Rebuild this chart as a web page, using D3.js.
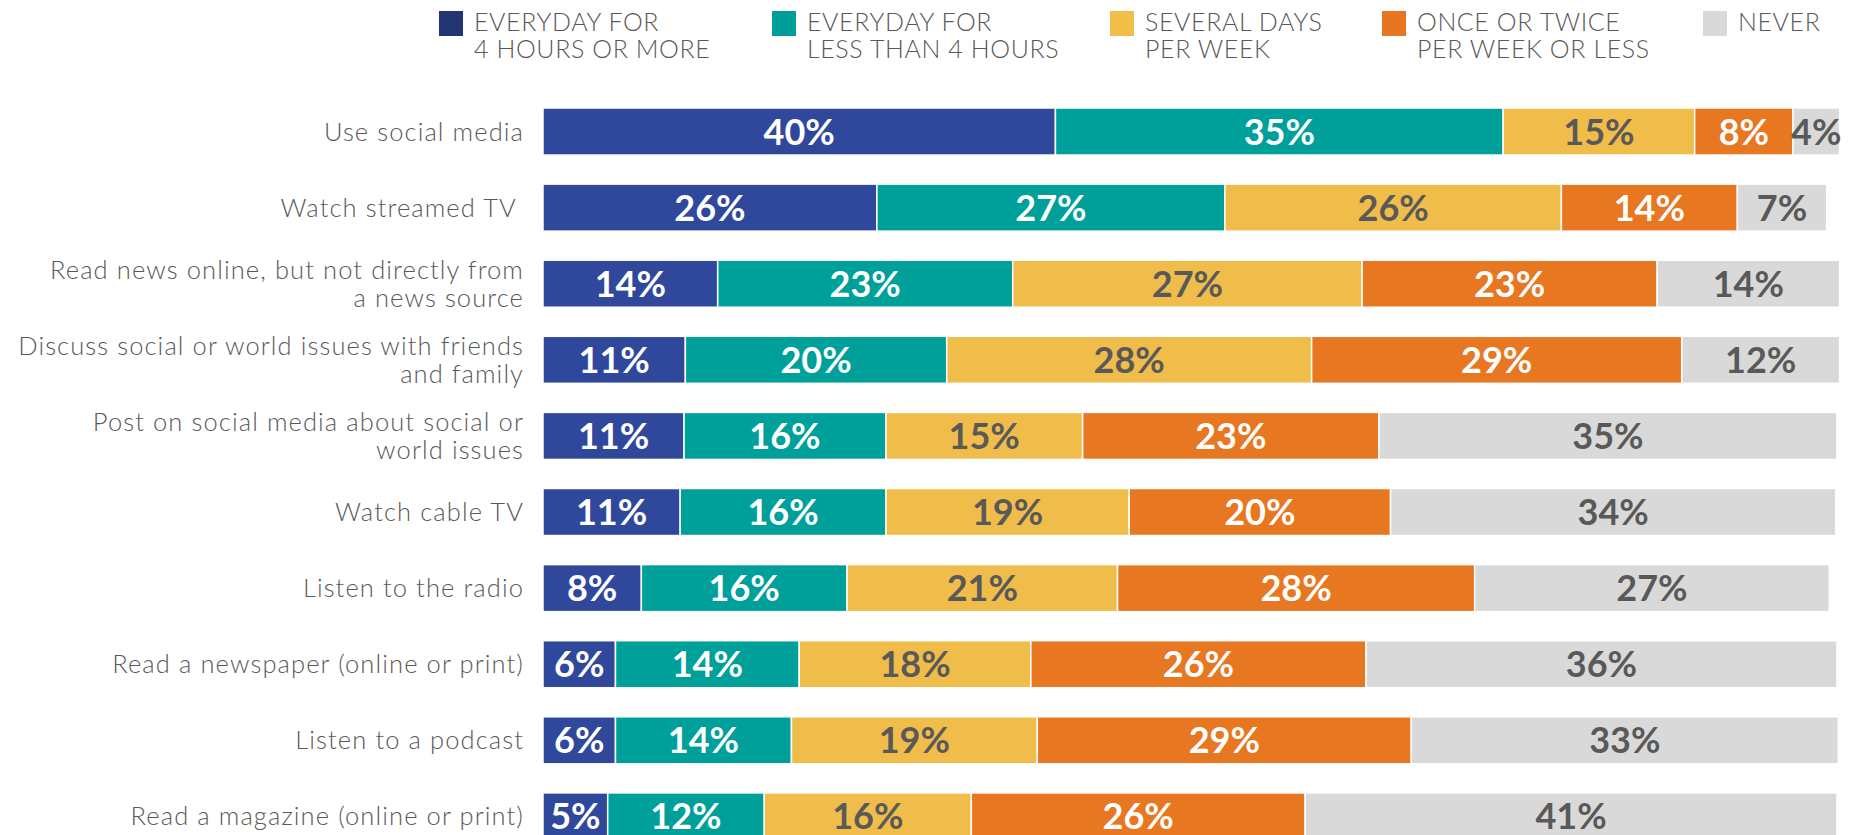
<!DOCTYPE html>
<html>
<head>
<meta charset="utf-8">
<script src="https://cdn.jsdelivr.net/npm/d3@7"></script>
<style>
  html, body { margin: 0; padding: 0; overflow: hidden; background: #fff; }
</style>
</head>
<body>
<div id="chart"></div>
<script>
// activities, top to bottom
var categories = [
    "Use social media",
    "Watch streamed TV\u00a0",
    "Read news online, but not directly from|a news source",
    "Discuss social or world issues with friends|and family",
    "Post on social media about social or|world issues",
    "Watch cable TV",
    "Listen to the radio",
    "Read a newspaper (online or print)",
    "Listen to a podcast",
    "Read a magazine (online or print)"
];

// percent of respondents
var fourPlus    = [39.6, 25.8, 13.5, 11.0, 10.9, 10.6,  7.6,  5.6,  5.6,  5.0];
var underFour   = [34.6, 26.9, 22.8, 20.2, 15.6, 15.9, 15.9, 14.2, 13.6, 12.1];
var severalDays = [14.8, 26.0, 27.0, 28.2, 15.2, 18.8, 20.9, 17.9, 19.0, 16.0];
var onceTwice   = [ 7.6, 13.6, 22.8, 28.6, 22.9, 20.2, 27.6, 25.9, 28.9, 25.8];
var never       = [ 3.6,  6.9, 14.1, 12.2, 35.4, 34.4, 27.4, 36.4, 33.0, 41.1];

var seriesNames = [
    ["EVERYDAY FOR", "4 HOURS OR MORE"],
    ["EVERYDAY FOR", "LESS THAN 4 HOURS"],
    ["SEVERAL DAYS", "PER WEEK"],
    ["ONCE OR TWICE", "PER WEEK OR LESS"],
    ["NEVER"]
];

var keys = ["fourPlus", "underFour", "severalDays", "onceTwice", "never"];
var colors = ["#2f489c", "#00a09a", "#f0bc4a", "#e87722", "#d9d9d9"];
var legendColors = ["#233674", "#009e9a", "#f1be48", "#e67621", "#d9d9d9"];
var labelColors = ["#fff", "#fff", "#595959", "#fff", "#595959"];
var legendX = [439, 772, 1110, 1382, 1703];

var width = 1849, height = 835;
var textGray = "#595959";
var fontFamily = "Lato, 'Open Sans', sans-serif";

var rows = categories.map(function(c, i) {
    return {
        category: c,
        fourPlus: fourPlus[i],
        underFour: underFour[i],
        severalDays: severalDays[i],
        onceTwice: onceTwice[i],
        never: never[i]
    };
});

var stacked = d3.stack().keys(keys)(rows);

var x = d3.scaleLinear().domain([0, 100]).range([543, 1837]);
var y = d3.scaleBand()
    .domain(categories)
    .range([108, 108 + 76.1 * (10 - 0.382)])
    .paddingInner(0.382)
    .paddingOuter(0);

var svg = d3.select("#chart").append("svg")
    .attr("width", width)
    .attr("height", height)
    .style("font-family", fontFamily);

// bars
var layers = svg.append("g").selectAll("g")
    .data(stacked)
    .enter().append("g")
    .attr("fill", function(d, i) { return colors[i]; });

layers.selectAll("rect")
    .data(function(d) { return d; })
    .enter().append("rect")
    .attr("x", function(d) { return x(d[0]); })
    .attr("y", function(d) { return y(d.data.category); })
    .attr("width", function(d) { return x(d[1]) - x(d[0]); })
    .attr("height", y.bandwidth())
    .attr("stroke", "#fff")
    .attr("stroke-width", 1.5);

// value labels
layers.selectAll("text")
    .data(function(d) { return d; })
    .enter().append("text")
    .attr("x", function(d) { return (x(d[0]) + x(d[1])) / 2; })
    .attr("y", function(d) { return y(d.data.category) + y.bandwidth() / 2 + 13; })
    .attr("text-anchor", "middle")
    .attr("font-size", 36)
    .attr("font-weight", 700)
    .attr("fill", function() { return labelColors[keys.indexOf(d3.select(this.parentNode).datum().key)]; })
    .text(function(d) { return Math.round(d[1] - d[0]) + "%"; });

// category labels, one text per line
var catLines = [];
categories.forEach(function(c) {
    var lines = c.split("|");
    lines.forEach(function(line, i) {
        catLines.push({ category: c, text: line, i: i, n: lines.length });
    });
});

svg.append("g").selectAll("text")
    .data(catLines)
    .enter().append("text")
    .attr("x", 524)
    .attr("y", function(d) {
        return y(d.category) + y.bandwidth() / 2 + 9 - (d.n - 1) * 14 + d.i * 28;
    })
    .attr("text-anchor", "end")
    .attr("font-size", 25.5)
    .attr("font-weight", 300)
    .attr("letter-spacing", 1.1)
    .attr("fill", textGray)
    .text(function(d) { return d.text; });

// legend
var legend = svg.append("g").selectAll("g")
    .data(seriesNames)
    .enter().append("g")
    .attr("transform", function(d, i) { return "translate(" + legendX[i] + ",0)"; });

legend.append("rect")
    .attr("x", 0)
    .attr("y", 11)
    .attr("width", 24)
    .attr("height", 25)
    .attr("fill", function(d, i) { return legendColors[i]; });

legend.selectAll("text")
    .data(function(d) { return d; })
    .enter().append("text")
    .attr("x", 35)
    .attr("y", function(d, i) { return 31 + i * 27; })
    .attr("font-size", 25)
    .attr("font-weight", 300)
    .attr("letter-spacing", 0.6)
    .attr("fill", textGray)
    .text(function(d) { return d; });
</script>
</body>
</html>
